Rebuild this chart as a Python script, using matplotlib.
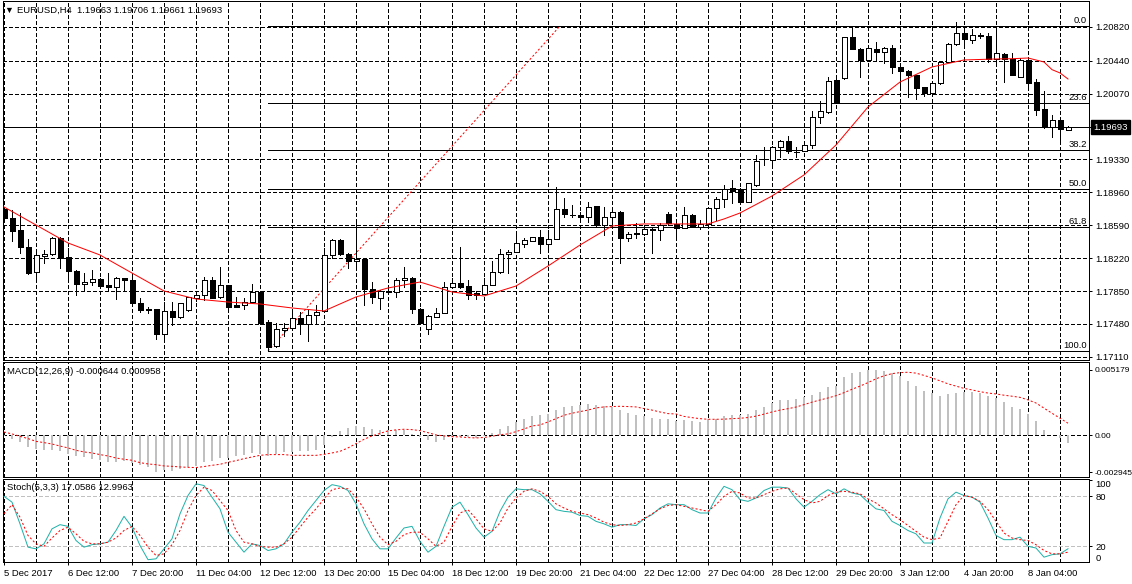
import matplotlib
matplotlib.use('Agg')
import matplotlib.pyplot as plt
from matplotlib.patches import Rectangle

plt.rcParams['font.family'] = ['Liberation Sans', 'DejaVu Sans']
plt.rcParams['lines.scale_dashes'] = False

# ---------------- data (EURUSD H4) ----------------
opens = [1.18770,1.18668,1.18537,1.18342,1.18061,1.18241,1.18263,1.18443,1.18230,1.18076,
1.17926,1.17952,1.17982,1.17915,1.17892,1.17993,1.17975,1.17712,1.17648,1.17648,
1.17363,1.17626,1.17555,1.17637,1.17768,1.17802,1.17975,1.17780,1.17915,1.17693,
1.17693,1.17723,1.17840,1.17498,1.17232,1.17408,1.17435,1.17547,1.17480,1.17581,
1.17630,1.18252,1.18425,1.18263,1.18188,1.18211,1.17877,1.17768,1.17851,1.17836,
1.17971,1.18001,1.17645,1.17420,1.17555,1.17600,1.17892,1.17937,1.17907,1.17825,
1.17821,1.17922,1.18061,1.18263,1.18286,1.18380,1.18417,1.18455,1.18380,1.18432,
1.18770,1.18710,1.18710,1.18680,1.18807,1.18593,1.18680,1.18736,1.18443,1.18500,
1.18492,1.18548,1.18533,1.18717,1.18601,1.18556,1.18706,1.18575,1.18605,1.18781,
1.18882,1.19006,1.18995,1.18856,1.19043,1.19335,1.19324,1.19466,1.19538,1.19418,
1.19429,1.19489,1.19811,1.19868,1.20224,1.20243,1.20704,1.20569,1.20449,1.20569,
1.20535,1.20580,1.20374,1.20329,1.20276,1.20141,1.20074,1.20186,1.20430,1.20625,
1.20749,1.20674,1.20730,1.20719,1.20456,1.20513,1.20460,1.20261,1.20449,1.20198,
1.19898,1.19691,1.19774,1.19663]
highs = [1.18781,1.18762,1.18724,1.18432,1.18275,1.18312,1.18462,1.18462,1.18331,1.18087,
1.18057,1.18087,1.17993,1.18050,1.18005,1.18001,1.18050,1.17768,1.17675,1.17648,
1.17723,1.17723,1.17720,1.17787,1.17825,1.18005,1.18005,1.18117,1.17918,1.17787,
1.17768,1.17926,1.17851,1.17525,1.17487,1.17487,1.17637,1.17618,1.17637,1.17693,
1.18338,1.18432,1.18432,1.18275,1.18612,1.18218,1.17947,1.17862,1.17881,1.17993,
1.18117,1.18012,1.17656,1.17581,1.17656,1.17956,1.17993,1.18342,1.17975,1.17855,
1.17993,1.18188,1.18320,1.18312,1.18481,1.18443,1.18462,1.18537,1.18537,1.19017,
1.18893,1.18818,1.18743,1.18856,1.18807,1.18792,1.18781,1.18755,1.18518,1.18620,
1.18567,1.18567,1.18612,1.18743,1.18612,1.18792,1.18717,1.18650,1.18792,1.18905,
1.19043,1.19100,1.19006,1.19062,1.19380,1.19474,1.19481,1.19549,1.19594,1.19466,
1.19500,1.19879,1.19988,1.20261,1.20231,1.20711,1.20816,1.20580,1.20591,1.20655,
1.20591,1.20618,1.20374,1.20336,1.20280,1.20149,1.20186,1.20441,1.20636,1.20880,
1.20805,1.20794,1.20756,1.20749,1.20824,1.20524,1.20524,1.20468,1.20468,1.20231,
1.20100,1.19830,1.19774,1.19706]
lows = [1.18657,1.18417,1.18275,1.18042,1.17975,1.18162,1.18256,1.18113,1.17975,1.17802,
1.17862,1.17918,1.17900,1.17862,1.17757,1.17855,1.17712,1.17611,1.17600,1.17311,
1.17300,1.17465,1.17547,1.17630,1.17742,1.17750,1.17768,1.17768,1.17618,1.17675,
1.17645,1.17712,1.17495,1.17176,1.17224,1.17345,1.17435,1.17367,1.17292,1.17480,
1.17630,1.18218,1.18256,1.18113,1.18106,1.17693,1.17712,1.17650,1.17817,1.17787,
1.17900,1.17600,1.17487,1.17363,1.17555,1.17600,1.17881,1.17881,1.17757,1.17757,
1.17821,1.17918,1.18050,1.18050,1.18286,1.18350,1.18417,1.18282,1.18293,1.18432,
1.18687,1.18687,1.18668,1.18631,1.18575,1.18481,1.18593,1.18170,1.18417,1.18443,
1.18481,1.18282,1.18425,1.18593,1.18443,1.18556,1.18567,1.18545,1.18593,1.18650,
1.18800,1.18845,1.18837,1.18856,1.19030,1.19268,1.19230,1.19361,1.19399,1.19361,
1.19429,1.19455,1.19736,1.19856,1.19969,1.20231,1.20569,1.20261,1.20441,1.20441,
1.20419,1.20306,1.20111,1.20029,1.20010,1.20044,1.20074,1.20175,1.20430,1.20618,
1.20599,1.20644,1.20693,1.20430,1.20430,1.20205,1.20280,1.20261,1.20111,1.19830,
1.19680,1.19586,1.19519,1.19661]
closes = [1.18668,1.18530,1.18342,1.18050,1.18256,1.18267,1.18443,1.18222,1.18072,1.17926,
1.17952,1.17982,1.17911,1.17892,1.17993,1.17971,1.17720,1.17633,1.17633,1.17363,
1.17626,1.17555,1.17712,1.17780,1.17802,1.17975,1.17776,1.17915,1.17675,1.17675,
1.17723,1.17840,1.17495,1.17224,1.17420,1.17435,1.17543,1.17480,1.17577,1.17618,
1.18252,1.18425,1.18263,1.18188,1.18211,1.17870,1.17780,1.17855,1.17836,1.17975,
1.17993,1.17645,1.17495,1.17570,1.17600,1.17892,1.17937,1.17900,1.17806,1.17806,
1.17922,1.18061,1.18263,1.18286,1.18387,1.18421,1.18455,1.18380,1.18432,1.18770,
1.18713,1.18702,1.18680,1.18800,1.18593,1.18680,1.18736,1.18443,1.18492,1.18488,
1.18548,1.18533,1.18590,1.18612,1.18556,1.18706,1.18575,1.18605,1.18781,1.18882,
1.18998,1.18980,1.18856,1.19062,1.19313,1.19331,1.19466,1.19538,1.19429,1.19410,
1.19489,1.19811,1.19875,1.20216,1.19969,1.20704,1.20569,1.20449,1.20580,1.20535,
1.20580,1.20374,1.20329,1.20276,1.20138,1.20074,1.20186,1.20430,1.20625,1.20749,
1.20681,1.20730,1.20719,1.20456,1.20524,1.20460,1.20280,1.20449,1.20194,1.19886,
1.19691,1.19774,1.19669,1.19693]

# moving average (read at selected bars)
ma_idx = [0,4,8,12,16,20,24,28,32,36,40,44,48,52,56,60,64,68,72,76,80,84,88,90,92,
          96,100,104,108,112,116,120,124,126,128,130,131,132,133]
ma_val = [1.18796,1.18593,1.18391,1.18256,1.18053,1.17851,1.17761,1.17727,1.17705,1.17660,
          1.17626,1.17784,1.17885,1.17952,1.17840,1.17795,1.17907,1.18132,1.18368,1.18582,
          1.18605,1.18605,1.18605,1.18661,1.18728,1.18919,1.19156,1.19493,1.19920,1.20201,
          1.20370,1.20449,1.20460,1.20463,1.20471,1.20426,1.20340,1.20303,1.20235]

macd_main = [-0.00008,-0.00026,-0.00053,-0.00090,-0.00110,-0.00118,-0.00120,-0.00128,-0.00145,-0.00165,
-0.00172,-0.00185,-0.00198,-0.00210,-0.00211,-0.00206,-0.00217,-0.00235,-0.00250,-0.00294,
-0.00272,-0.00282,-0.00265,-0.00250,-0.00242,-0.00215,-0.00200,-0.00180,-0.00178,-0.00168,
-0.00155,-0.00138,-0.00148,-0.00162,-0.00145,-0.00135,-0.00135,-0.00128,-0.00125,-0.00119,
-0.00074,-0.00013,0.00032,0.00058,0.00071,0.00066,0.00048,0.00040,0.00045,0.00045,
0.00040,0.00011,-0.00016,-0.00037,-0.00050,-0.00037,-0.00016,-0.00011,-0.00016,-0.00024,
-0.00005,0.00021,0.00050,0.00074,0.00106,0.00130,0.00153,0.00161,0.00169,0.00201,
0.00225,0.00233,0.00241,0.00248,0.00241,0.00233,0.00227,0.00201,0.00180,0.00161,
0.00153,0.00135,0.00127,0.00130,0.00114,0.00122,0.00114,0.00103,0.00127,0.00127,
0.00153,0.00161,0.00161,0.00169,0.00201,0.00227,0.00259,0.00280,0.00280,0.00288,
0.00301,0.00323,0.00344,0.00386,0.00391,0.00465,0.00492,0.00502,0.005179,0.00515,
0.00510,0.00492,0.00471,0.00431,0.00391,0.00352,0.00333,0.00312,0.00328,0.00338,
0.00346,0.00346,0.00338,0.00315,0.00293,0.00264,0.00227,0.00209,0.00169,0.00114,
0.00042,0.00002,-0.00024,-0.000644]
macd_signal = [0.00026,0.00011,-0.00008,-0.00026,-0.00048,-0.00058,-0.00069,-0.00085,-0.00100,-0.00119,
-0.00132,-0.00140,-0.00153,-0.00164,-0.00180,-0.00190,-0.00198,-0.00217,-0.00227,-0.00233,
-0.00243,-0.00246,-0.00251,-0.00254,-0.00256,-0.00248,-0.00238,-0.00230,-0.00214,-0.00201,
-0.00185,-0.00172,-0.00159,-0.00153,-0.00153,-0.00153,-0.00159,-0.00159,-0.00159,-0.00159,
-0.00151,-0.00140,-0.00127,-0.00100,-0.00066,-0.00032,-0.00005,0.00015,0.00035,0.00043,
0.00048,0.00045,0.00037,0.00021,0.00003,-0.00005,-0.00011,-0.00013,-0.00018,-0.00021,
-0.00017,-0.00008,0.00005,0.00011,0.00029,0.00050,0.00074,0.00082,0.00106,0.00132,
0.00159,0.00175,0.00188,0.00200,0.00217,0.00225,0.00228,0.00230,0.00228,0.00225,
0.00212,0.00200,0.00185,0.00172,0.00169,0.00150,0.00140,0.00132,0.00127,0.00127,
0.00128,0.00132,0.00135,0.00141,0.00152,0.00168,0.00185,0.00200,0.00211,0.00224,
0.00243,0.00263,0.00280,0.00296,0.00314,0.00338,0.00365,0.00390,0.00418,0.00448,
0.00472,0.00489,0.00497,0.00500,0.00493,0.00475,0.00455,0.00432,0.00408,0.00390,
0.00372,0.00360,0.00346,0.00335,0.00328,0.00318,0.00310,0.00301,0.00281,0.00256,
0.00215,0.00175,0.00135,0.000958]

stoch_k = [80,73,47,19,17,23,41,46,44,27, 19,22,23,25,39,56,43,21,4,5,
17,29,59,81,95,93,79,65,37,25, 13,23,21,15,17,23,37,49,63,75,
87,94,92,87,71,47,29,17,17,30, 42,44,26,13,20,44,67,73,58,42,
31,38,62,79,89,88,88,83,74,64, 62,61,57,56,50,47,43,46,46,45,
53,58,66,71,70,70,64,60,60,78, 92,88,76,74,78,87,91,91,90,77,
67,74,82,88,83,89,84,82,73,65, 63,50,45,39,35,24,24,54,77,85,
81,79,73,54,33,28,28,31,20,18, 7,10,11,17.0586]
stoch_d = [59,70,55,33,23,20,30,39,43,35, 26,23,23,25,30,39,44,33,19,9,
11,22,39,63,81,91,87,75,63,39, 25,23,20,19,19,23,31,43,55,65,
77,88,90,89,79,65,47,31,22,26, 34,37,37,29,20,25,44,60,64,53,
41,38,48,66,78,86,89,86,80,71, 66,62,60,58,54,49,46,45,46,48,
53,59,65,69,70,68,66,64,62,70, 80,86,84,78,78,82,86,89,90,83,
76,72,74,81,85,86,85,83,77,72, 65,58,52,45,38,31,28,30,50,70,
81,79,74,64,50,36,30,28,27,22, 15,11,11,12.9963]

price_ticks = [1.2082,1.2044,1.2007,1.1970,1.1933,1.1896,1.1859,1.1822,1.1785,1.1748,1.1711]
price_labels = ['1.20820','1.20440','1.20070','','1.19330','1.18960','1.18590',
                '1.18220','1.17850','1.17480','1.17110']
last_price = 1.19693

fib_levels = ['0.0','23.6','38.2','50.0','61.8','100.0']
fib_prices = [1.20831,1.19968,1.19435,1.19003,1.18572,1.17176]
fib_bar_low, fib_bar_high = 33, 69.5

date_labels = ['5 Dec 2017','6 Dec 12:00','7 Dec 20:00','11 Dec 04:00','12 Dec 12:00',
               '13 Dec 20:00','15 Dec 04:00','18 Dec 12:00','19 Dec 20:00','21 Dec 04:00',
               '22 Dec 12:00','27 Dec 04:00','28 Dec 12:00','29 Dec 20:00','3 Jan 12:00',
               '4 Jan 20:00','8 Jan 04:00']

# ---------------- figure ----------------
W, H = 1132, 584
PX = 0.72
FS = 6.8
GRID = (0, (2.2, 1.5))
DOT = (0, (1.5, 1.5))
fig = plt.figure(figsize=(W / 100, H / 100), dpi=100)
fig.patch.set_facecolor('white')

def box(top, bottom, left=3, right=1089):
    return [left / W, 1 - bottom / H, (right - left) / W, (bottom - top) / H]

ax1 = fig.add_axes(box(1, 360))
ax2 = fig.add_axes(box(362, 477))
ax3 = fig.add_axes(box(479, 562))
n = len(closes)
xs = list(range(n))
XL = (-0.125, 135.625)

for ax in (ax1, ax2, ax3):
    ax.set_xlim(*XL)
    ax.set_facecolor('white')
    for s in ax.spines.values():
        s.set_linewidth(PX)
        s.set_color('black')
    for i in range(0, n, 4):
        ax.axvline(i, color='black', lw=PX, linestyle=GRID, antialiased=False, zorder=1)
    ax.yaxis.tick_right()
    ax.tick_params(axis='y', direction='out', length=2.2, width=PX, pad=2.5,
                   labelsize=FS, colors='black')
    ax.tick_params(axis='x', length=0)
    ax.set_xticks([])

# ---- main price panel ----
ax1.set_ylim(1.17075, 1.21112)
for p in price_ticks:
    ax1.axhline(p, color='black', lw=PX, linestyle=GRID, antialiased=False, zorder=1)
ax1.set_yticks(price_ticks)
ax1.set_yticklabels(price_labels)

ax1.axhline(last_price, color='black', lw=PX, antialiased=False, zorder=2)

for lvl, p in zip(fib_levels, fib_prices):
    ax1.hlines(p, fib_bar_low, XL[1], color='black', lw=PX, antialiased=False, zorder=2)
    ax1.annotate(lvl, xy=(1, p), xycoords=('axes fraction', 'data'), xytext=(-1.5, 0.5),
                 textcoords='offset points', ha='right', va='bottom', fontsize=FS)
ax1.plot([fib_bar_low, fib_bar_high], [fib_prices[-1], fib_prices[0]], color='red',
         lw=PX, linestyle=DOT, zorder=2)

for i, (o, h, l, c) in enumerate(zip(opens, highs, lows, closes)):
    ax1.vlines(i, l, h, color='black', lw=PX, antialiased=False, zorder=3)
    b = min(o, c)
    hgt = abs(c - o)
    if hgt < 0.00003:
        ax1.hlines(b, i - 0.3125, i + 0.3125, color='black', lw=PX, antialiased=False, zorder=4)
    else:
        ax1.add_patch(Rectangle((i - 0.3125, b), 0.625, hgt,
                                facecolor='white' if c >= o else 'black',
                                edgecolor='black', lw=PX, antialiased=False, zorder=4))

ax1.plot(ma_idx, ma_val, color='red', lw=PX, zorder=5)

ax1.annotate('%.5f' % last_price, xy=(1, last_price), xycoords=('axes fraction', 'data'),
             xytext=(3.0, 0), textcoords='offset points', ha='left', va='center',
             fontsize=FS, color='white', zorder=10, annotation_clip=False,
             bbox=dict(boxstyle='square,pad=0.28', fc='black', ec='black'))

# ---- MACD panel ----
ax2.set_ylim(-0.003307, 0.005813)
ax2.axhline(0, color='black', lw=PX, linestyle=GRID, antialiased=False, zorder=1)
ax2.vlines(xs, 0, macd_main, color='#C0C0C0', lw=1.44, antialiased=False, zorder=2)
ax2.plot(xs, macd_signal, color='red', lw=PX, linestyle=DOT, zorder=3)
ax2.set_yticks([0.005179, 0.0, -0.002945])
ax2.set_yticklabels(['0.005179', '0.00', '-0.002945'])
ax2.tick_params(axis='y', labelsize=6.0, pad=1.5)

# ---- Stochastic panel ----
ax3.set_ylim(1.2, 100.8)
for lv in (80, 20):
    ax3.axhline(lv, color='#C0C0C0', lw=PX, linestyle=GRID, antialiased=False, zorder=1)
ax3.plot(xs, stoch_k, color='#20B2AA', lw=PX, zorder=3)
ax3.plot(xs, stoch_d, color='red', lw=PX, linestyle=DOT, zorder=3)
ax3.set_yticks([100, 80, 20])
ax3.set_yticklabels(['100', '80', '20'])
ax3.get_yticklabels()[0].set_va('top')
ax3.annotate('0', xy=(1, 0), xycoords=('axes fraction', 'data'), xytext=(4.7, 0),
             textcoords='offset points', ha='left', va='bottom', fontsize=FS,
             annotation_clip=False)

ax3.set_xticks(list(range(0, n, 8))[:len(date_labels)])
ax3.set_xticklabels(date_labels)
ax3.tick_params(axis='x', direction='out', length=2.2, width=PX, pad=3.2,
                labelsize=FS, colors='black')
for t in ax3.get_xticklabels():
    t.set_ha('left')

# ---- header texts ----
fig.text(4 / W, 1 - 10 / H, '\u25bc', fontsize=6.5, va='center', ha='left')
fig.text(17 / W, 1 - 10 / H, 'EURUSD,H4  1.19663 1.19706 1.19661 1.19693',
         fontsize=FS, va='center', ha='left')
fig.text(7 / W, 1 - 372 / H, 'MACD(12,26,9) -0.000644 0.000958', fontsize=FS,
         va='center', ha='left')
fig.text(7 / W, 1 - 487 / H, 'Stoch(5,3,3) 17.0586 12.9963', fontsize=FS,
         va='center', ha='left')

fig.savefig('out.png', dpi=100, facecolor='white')
